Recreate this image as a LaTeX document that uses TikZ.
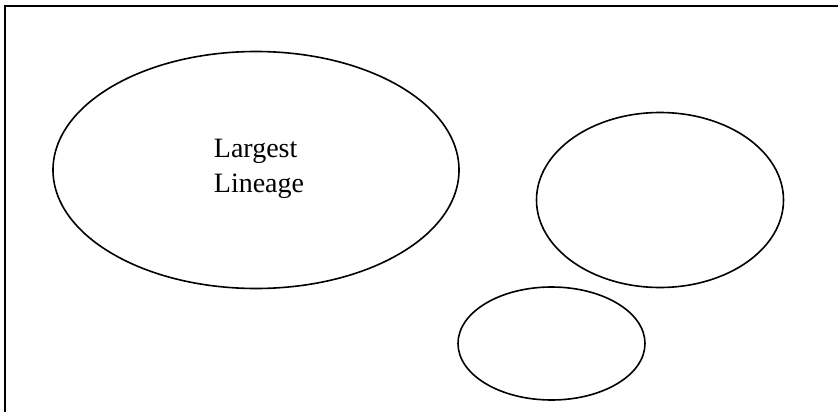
\documentclass[tikz,border=0pt]{standalone}
\usepackage{fontspec}
\setmainfont{Liberation Serif}
\usetikzlibrary{shapes.geometric}
\begin{document}
\begin{tikzpicture}[x=1pt,y=-1pt,
  blob/.style={draw, ellipse, line width=1.6pt, inner sep=0pt},
  frameline/.style={draw, line width=2.2pt},
  caption/.style={align=left, inner sep=0pt, font=\fontsize{28}{35}\selectfont}]
  \useasboundingbox (0,0) rectangle (838,412);
  \fill[white] (0,0) rectangle (838,412);
  % outer frame, running off the right and bottom edges
  \coordinate (fbl) at (5,420);
  \coordinate (ftr) at (846,6);
  \draw[frameline] (fbl) |- (ftr);
  % lineages
  \node[blob, minimum width=406pt, minimum height=237pt] (largest) at (256,170) {};
  \node[caption] (lbl) at (259,168.8) {Largest\\Lineage};
  \node[blob, minimum width=247pt, minimum height=175pt] (second) at (660,200) {};
  \node[blob, minimum width=187pt, minimum height=113pt] (third) at (551.5,343.5) {};
\end{tikzpicture}
\end{document}
